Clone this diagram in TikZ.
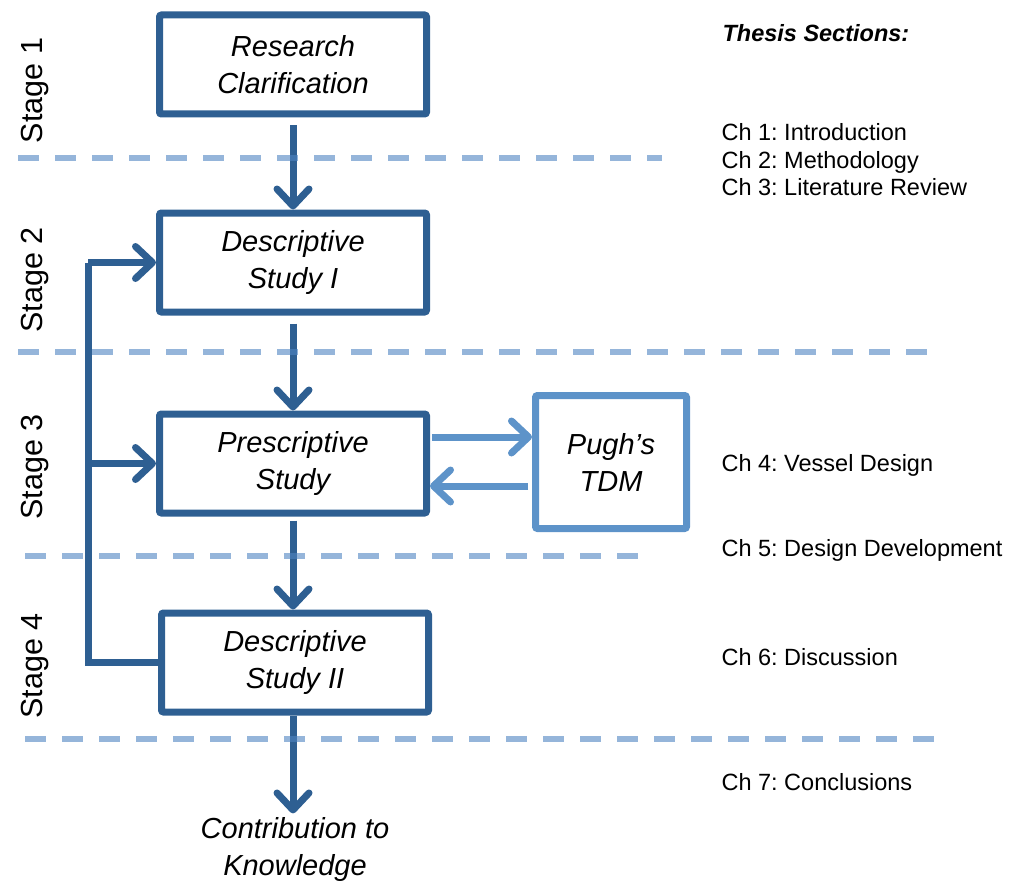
\documentclass[tikz,border=0pt]{standalone}
\usepackage{fontspec}
\setmainfont{Liberation Sans}
\usetikzlibrary{arrows.meta}
\definecolor{dblue}{HTML}{2E5F92}
\definecolor{lblue}{HTML}{5D93C9}
\definecolor{dashblue}{HTML}{4E84C1}
\frenchspacing
\begin{document}
\begin{tikzpicture}[x=1pt,y=-1pt,
  stagebox/.style={draw=dblue, line width=7pt, rounded corners=2pt, minimum width=267pt, minimum height=99pt, inner sep=0pt, align=center, font=\fontsize{29}{37}\selectfont\itshape},
  pughbox/.style={draw=lblue, line width=7pt, rounded corners=2pt, minimum width=151pt, minimum height=133pt, inner sep=0pt, align=center, font=\fontsize{29}{37}\selectfont\itshape},
  tipstyle/.style={-{Straight Barb[length=17pt,width=32pt,round]}},
  flow/.style={draw=dblue, line width=7pt, tipstyle},
  plain/.style={draw=dblue, line width=7pt},
  flowlight/.style={draw=lblue, line width=7pt, tipstyle},
  dashline/.style={draw=dashblue, opacity=0.6, line width=6pt, dash pattern=on 21pt off 16pt},
  stagelabel/.style={rotate=90, anchor=base, font=\fontsize{30.5}{36}\selectfont},
  chlabel/.style={anchor=base west, font=\fontsize{23.5}{28}\selectfont}
]
\useasboundingbox (0,0) rectangle (1011,888);

% boxes
\node[stagebox] (rc) at (293,64.5) {Research\\Clarification};
\node[stagebox] (ds1) at (293,262.5) {Descriptive\\Study I};
\node[stagebox] (ps) at (293,463.5) {Prescriptive\\Study};
\node[stagebox] (ds2) at (295,662.5) {Descriptive\\Study II};
\node[pughbox] (pugh) at (611,462) {Pugh’s\\TDM};
\node[align=center, font=\fontsize{29}{37}\selectfont\itshape] (ck) at (295,849) {Contribution to\\Knowledge};

% main flow
\draw[flow, shorten <=8pt] (rc.south) -- (ds1.north);
\draw[flow, shorten <=8pt] (ds1.south) -- (ps.north);
\draw[flow, shorten <=4pt] (ps.south) -- (ps.south |- ds2.north);
\draw[flow] (ds2.south -| ps.south) -- (ck.north -| ps.south);

% feedback loop
\coordinate (fb1) at (88,662.5);
\coordinate (fb2) at (88,262.5);
\coordinate (fb3) at (88,463.5);
\draw[plain] (ds2.west) -- (fb1) -- (fb2);
\draw[flow] (fb2) -- (ds1.west);
\draw[flow] (fb3) -- (ps.west);

% Pugh arrows
\draw[flowlight, shorten <=2pt] ([yshift=26.5pt]ps.east) -- ([yshift=26.5pt]ps.east -| pugh.west);
\draw[flowlight, shorten <=4pt] ([yshift=-22.5pt]ps.east -| pugh.west) -- ([yshift=-22.5pt]ps.east);

% dashed stage separators
\draw[dashline] (18,158) -- (662,158);
\draw[dashline] (18,352) -- (937,352);
\draw[dashline] (25,556) -- (645,556);
\draw[dashline] (25,739) -- (942,739);

% stage labels
\node[stagelabel] (s1) at (42,90.5) {Stage 1};
\node[stagelabel] (s2) at (42,280) {Stage 2};
\node[stagelabel] (s3) at (42,467) {Stage 3};
\node[stagelabel] (s4) at (42,666) {Stage 4};

% thesis sections
\node[chlabel, font=\fontsize{23.5}{28}\selectfont\bfseries\itshape] (ts) at (719,42) {Thesis Sections:};
\node[chlabel] (c1) at (718,140) {Ch 1: Introduction};
\node[chlabel] (c2) at (718,168) {Ch 2: Methodology};
\node[chlabel] (c3) at (718,195) {Ch 3: Literature Review};
\node[chlabel] (c4) at (718,471) {Ch 4: Vessel Design};
\node[chlabel] (c5) at (718,556) {Ch 5: Design Development};
\node[chlabel] (c6) at (718,665) {Ch 6: Discussion};
\node[chlabel] (c7) at (718,790) {Ch 7: Conclusions};
\end{tikzpicture}
\end{document}
